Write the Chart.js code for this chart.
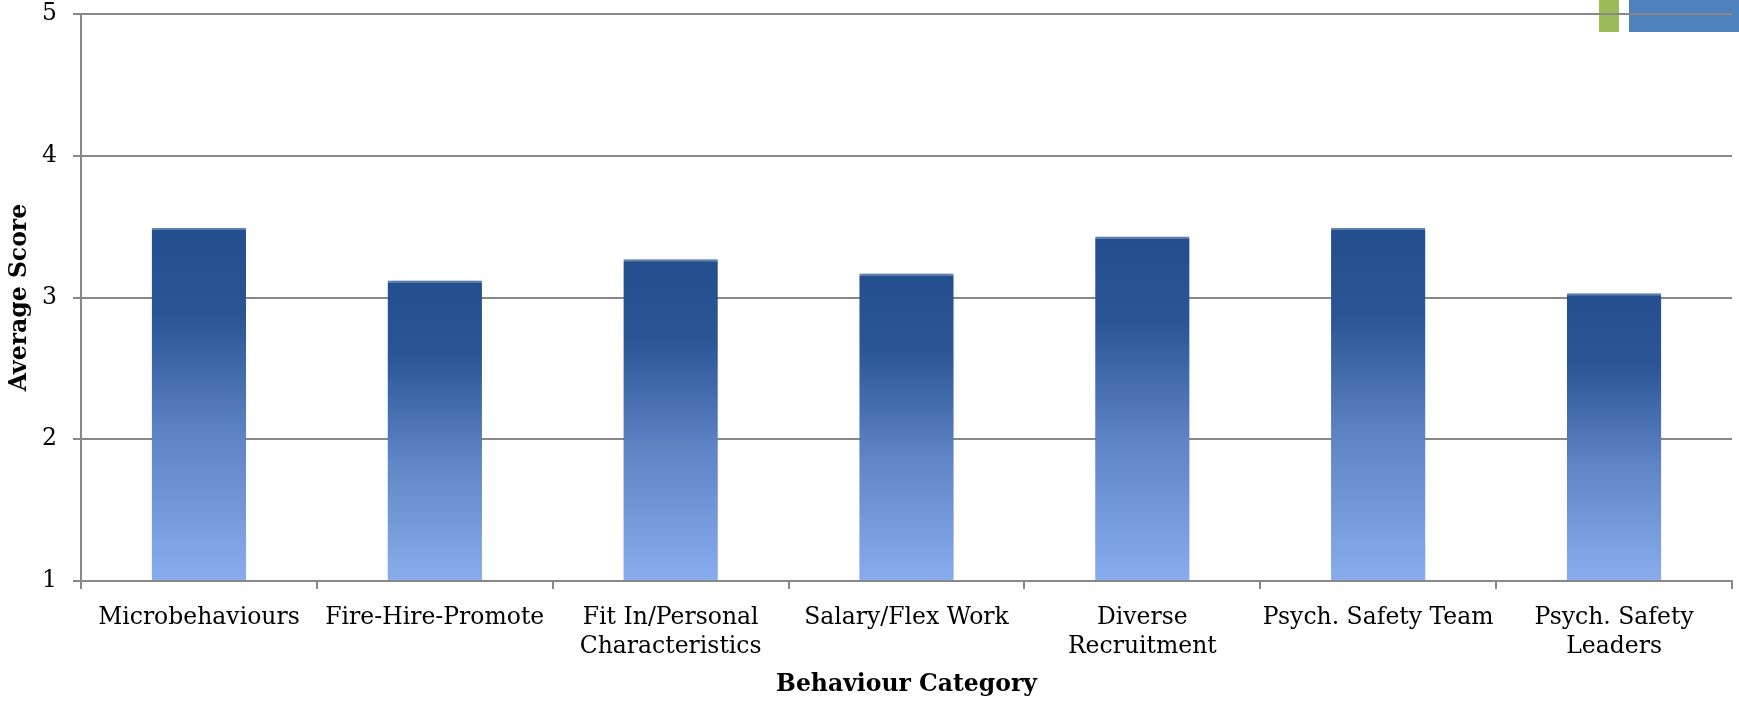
<!DOCTYPE html>
<html>
<head>
<meta charset="utf-8">
<script src="https://cdn.jsdelivr.net/npm/chart.js@4/dist/chart.umd.min.js"></script>
<style>
  html, body { margin: 0; padding: 0; background: #fff; }
  #wrap { position: relative; width: 1739px; height: 703px; }
  .deco { position: absolute; top: 0; height: 32px; }
  #green { left: 1599px; width: 20px; background: #9bbb59; }
  #blue { left: 1629px; width: 110px; background: #4f81bd; }
  canvas { position: absolute; left: 0; top: 0; }
</style>
</head>
<body>
<div id="wrap">
  <div class="deco" id="green"></div>
  <div class="deco" id="blue"></div>
  <canvas id="chart-bars" width="1739" height="703"></canvas>
</div>
<script>
// dados
const categories = [
    'Microbehaviours',
    'Fire-Hire-Promote',
    ['Fit In/Personal', 'Characteristics'],
    'Salary/Flex Work',
    ['Diverse', 'Recruitment'],
    'Psych. Safety Team',
    ['Psych. Safety', 'Leaders']
];
const scores = [3.49, 3.12, 3.27, 3.17, 3.43, 3.49, 3.03];
const yTicks = [1, 2, 3, 4, 5];

const fontName = "'DejaVu Serif', 'Liberation Serif', serif";

// gradiente de cada barra, escuro em cima e claro em baixo
function barGradient(context) {
    const chart = context.chart;
    const y = chart.scales.y;
    if (!y || context.dataIndex === undefined) return '#4f81bd';
    const top = y.getPixelForValue(scores[context.dataIndex]);
    const bottom = y.getPixelForValue(yTicks[0]);
    if (!isFinite(top) || !isFinite(bottom) || top === bottom) return '#4f81bd';
    const g = chart.ctx.createLinearGradient(0, top, 0, bottom);
    g.addColorStop(0, '#234f8e');
    g.addColorStop(0.25, '#2a5696');
    g.addColorStop(0.6, '#5f85c5');
    g.addColorStop(1, '#89adec');
    return g;
}

// sombra leve atras das barras
const shadowPlugin = {
    id: 'barShadow',
    beforeDatasetsDraw(chart) {
        const ctx = chart.ctx;
        ctx.save();
        ctx.shadowColor = 'rgba(0,0,0,0.3)';
        ctx.shadowBlur = 8;
        ctx.shadowOffsetX = 0;
        ctx.shadowOffsetY = 0;
    },
    afterDatasetsDraw(chart) {
        chart.ctx.restore();
    }
};

const ctx = document.getElementById('chart-bars');

const config = {
    type: 'bar',
    data: {
        labels: categories,
        datasets: [{
            data: scores,
            backgroundColor: barGradient,
            borderColor: '#6a90c8',
            borderWidth: { top: 2, left: 0, right: 0, bottom: 0 },
            barPercentage: 0.8,
            categoryPercentage: 0.5,
            base: 1
        }]
    },
    options: {
        responsive: false,
        animation: false,
        layout: { padding: { left: 6, right: 7, top: 0, bottom: 4 } },
        plugins: {
            legend: { display: false },
            tooltip: { enabled: false }
        },
        scales: {
            x: {
                afterFit(scale) {
                    scale.paddingLeft = 0;
                    scale.paddingRight = 0;
                    scale.height = 118;
                },
                grid: {
                    offset: true,
                    drawOnChartArea: false,
                    drawTicks: true,
                    tickLength: 8,
                    color: '#888888',
                    lineWidth: 2
                },
                border: { color: '#888888', width: 2 },
                ticks: {
                    color: '#000',
                    font: { family: fontName, size: 23.5, lineHeight: 1.25 },
                    maxRotation: 0,
                    autoSkip: false,
                    padding: 14
                },
                title: {
                    display: true,
                    text: 'Behaviour Category',
                    color: '#000',
                    font: { family: fontName, size: 23.5, weight: 'bold' },
                    padding: { top: 2, bottom: 0 }
                }
            },
            y: {
                min: 1,
                max: 5,
                afterBuildTicks(scale) {
                    scale.ticks = yTicks.map(v => ({ value: v }));
                },
                afterFit(scale) {
                    scale.paddingTop = 14;
                    scale.paddingBottom = 0;
                    scale.width = 75;
                },
                grid: {
                    color: '#888888',
                    lineWidth: 2,
                    tickLength: 8
                },
                border: { color: '#888888', width: 2 },
                ticks: {
                    color: '#000',
                    font: { family: fontName, size: 23.5 },
                    padding: 16
                },
                title: {
                    display: true,
                    text: 'Average Score',
                    color: '#000',
                    font: { family: fontName, size: 23.5, weight: 'bold' },
                    padding: { top: 0, bottom: 8 }
                }
            }
        }
    },
    plugins: [shadowPlugin]
};

new Chart(ctx, config);
</script>
</body>
</html>
